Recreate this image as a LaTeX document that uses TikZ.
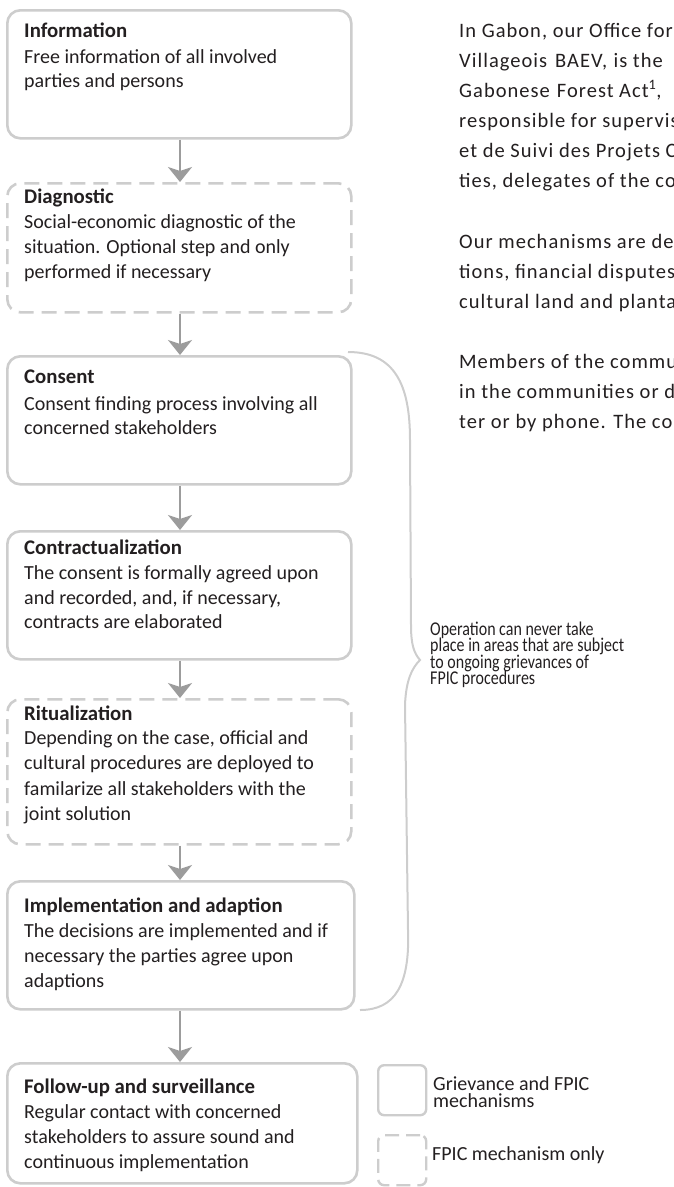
\documentclass[tikz,border=0pt]{standalone}
\usepackage{fontspec}
\setmainfont{Carlito}
\newfontfamily\narrowfont[FakeStretch=0.82]{Carlito}
\newfontfamily\spacedfont[LetterSpace=5]{Carlito}
\usetikzlibrary{arrows.meta}
\definecolor{boxgray}{HTML}{CDCDCD}
\definecolor{arrgray}{HTML}{9C9C9C}
\definecolor{txt}{HTML}{231F20}
\begin{document}
\begin{tikzpicture}[x=1pt,y=-1pt,
  stepbox/.style={draw=boxgray, line width=2.6pt, rounded corners=13pt, inner sep=0pt, anchor=north west, fill=white},
  optbox/.style={stepbox, dash pattern=on 15pt off 8pt},
  legbox/.style={draw=boxgray, line width=2.4pt, rounded corners=6pt, inner sep=0pt, anchor=north west, minimum width=48pt, minimum height=50pt},
  legdash/.style={legbox, dash pattern=on 14pt off 7pt},
  flow/.style={draw=arrgray, line width=2.6pt, -{Stealth[length=15pt,width=24pt,inset=4pt]}},
  bracepath/.style={draw=boxgray, line width=2pt},
  tline/.style={anchor=base west, inner sep=0pt, text=txt, font=\fontsize{20}{24}\selectfont},
  ttitle/.style={anchor=base west, inner sep=0pt, text=txt, font=\fontsize{20.8}{24}\selectfont\bfseries},
  sline/.style={anchor=base west, inner sep=0pt, text=txt, font=\narrowfont\fontsize{19.5}{17}\selectfont},
  lline/.style={anchor=base west, inner sep=0pt, text=txt, font=\fontsize{20}{17}\selectfont},
  pline/.style={anchor=base west, inner sep=0pt, text=txt, font=\spacedfont\fontsize{20.5}{24}\selectfont}]
\useasboundingbox (0,0) rectangle (674,1187);

% boxes
\node[stepbox, minimum width=344pt, minimum height=128pt] (b1) at (6,9) {};
\node[optbox, minimum width=344pt, minimum height=129pt] (b2) at (6,182) {};
\node[stepbox, minimum width=344pt, minimum height=128pt] (b3) at (6,355) {};
\node[stepbox, minimum width=344pt, minimum height=128pt] (b4) at (6,530) {};
\node[optbox, minimum width=344pt, minimum height=145pt] (b5) at (6,698) {};
\node[stepbox, minimum width=347pt, minimum height=128pt] (b6) at (6,880) {};
\node[stepbox, minimum width=350pt, minimum height=120pt] (b7) at (6,1062) {};

% arrows
\coordinate (a1) at (180,137);
\draw[flow] (a1 |- b1.south) -- (a1 |- b2.north);
\draw[flow] (a1 |- b2.south) -- (a1 |- b3.north);
\draw[flow] (a1 |- b3.south) -- (a1 |- b4.north);
\draw[flow] (a1 |- b4.south) -- (a1 |- b5.north);
\draw[flow] (a1 |- b5.south) -- (a1 |- b6.north);
\draw[flow] (a1 |- b6.south) -- (a1 |- b7.north);

% box texts
\node[ttitle] (t1) at (24,37) {Information};
\node[tline] (t1a) at (24,63) {Free information of all involved};
\node[tline] (t1b) at (24,87) {parties and persons};

\node[ttitle] (t2) at (24,203) {Diagnostic};
\node[tline] (t2a) at (24,228) {Social-economic diagnostic of the};
\node[tline] (t2b) at (24,253) {situation. Optional step and only};
\node[tline] (t2c) at (24,278) {performed if necessary};

\node[ttitle] (t3) at (24,383) {Consent};
\node[tline] (t3a) at (24,410) {Consent finding process involving all};
\node[tline] (t3b) at (24,434) {concerned stakeholders};

\node[ttitle] (t4) at (24,554) {Contractualization};
\node[tline] (t4a) at (24,579) {The consent is formally agreed upon};
\node[tline] (t4b) at (24,604) {and recorded, and, if necessary,};
\node[tline] (t4c) at (24,628) {contracts are elaborated};

\node[ttitle] (t5) at (24,720) {Ritualization};
\node[tline] (t5a) at (24,744) {Depending on the case, official and};
\node[tline] (t5b) at (24,769) {cultural procedures are deployed to};
\node[tline] (t5c) at (24,795) {familarize all stakeholders with the};
\node[tline] (t5d) at (24,820) {joint solution};

\node[ttitle] (t6) at (24,912) {Implementation and adaption};
\node[tline] (t6a) at (24,937) {The decisions are implemented and if};
\node[tline] (t6b) at (24,962) {necessary the parties agree upon};
\node[tline] (t6c) at (24,987) {adaptions};

\node[ttitle] (t7) at (24,1093) {Follow-up and surveillance};
\node[tline] (t7a) at (24,1118) {Regular contact with concerned};
\node[tline] (t7b) at (24,1143) {stakeholders to assure sound and};
\node[tline] (t7c) at (24,1168) {continuous implementation};

% brace
\draw[bracepath] (348,352) .. controls (395,352) and (410,385) .. (410,440)
  -- (411,625) .. controls (411,645) and (414,653) .. (420,660)
  .. controls (412,668) and (406,680) .. (405,705)
  -- (408,930) .. controls (410,985) and (395,1010) .. (360,1010);
\node[sline] (bl1) at (430,635) {Operation can never take};
\node[sline] (bl2) at (430,651.5) {place in areas that are subject};
\node[sline] (bl3) at (430,668) {to ongoing grievances of};
\node[sline] (bl4) at (430,684.5) {FPIC procedures};

% legend
\node[legbox] (lg1) at (377,1064) {};
\node[legdash] (lg2) at (377,1134) {};
\node[lline] (lt1) at (433,1090) {Grievance and FPIC};
\node[lline] (lt2) at (433,1107) {mechanisms};
\node[lline] (lt3) at (432,1160) {FPIC mechanism only};

% right-hand text, cut at the page edge
\begin{scope}
\clip (0,0) rectangle (674,1187);
\node[pline] (p1) at (459,37) {In Gabon, our Office for};
\node[pline] (p2) at (459,67) {Villageois\hspace{8pt}BAEV,\hspace{6.5pt}is\hspace{5.5pt}the};
\node[pline] (p3) at (459,97) {Gabonese\hspace{7pt}Forest\hspace{5.5pt}Act\textsuperscript{1},};
\node[pline] (p4) at (459,127) {responsible for supervising};
\node[pline] (p5) at (459,157) {et de Suivi des Projets Comm};
\node[pline] (p6) at (459,187) {ties, delegates of the comm};
\node[pline] (p7) at (459,248) {Our mechanisms are des};
\node[pline] (p8) at (459,278) {tions, financial disputes};
\node[pline] (p9) at (459,308) {cultural land and planta};
\node[pline] (p10) at (459,368) {Members of the commu};
\node[pline] (p11) at (459,398) {in the communities or di};
\node[pline] (p12) at (459,428) {ter or by phone. The comp};
\end{scope}
\end{tikzpicture}
\end{document}
